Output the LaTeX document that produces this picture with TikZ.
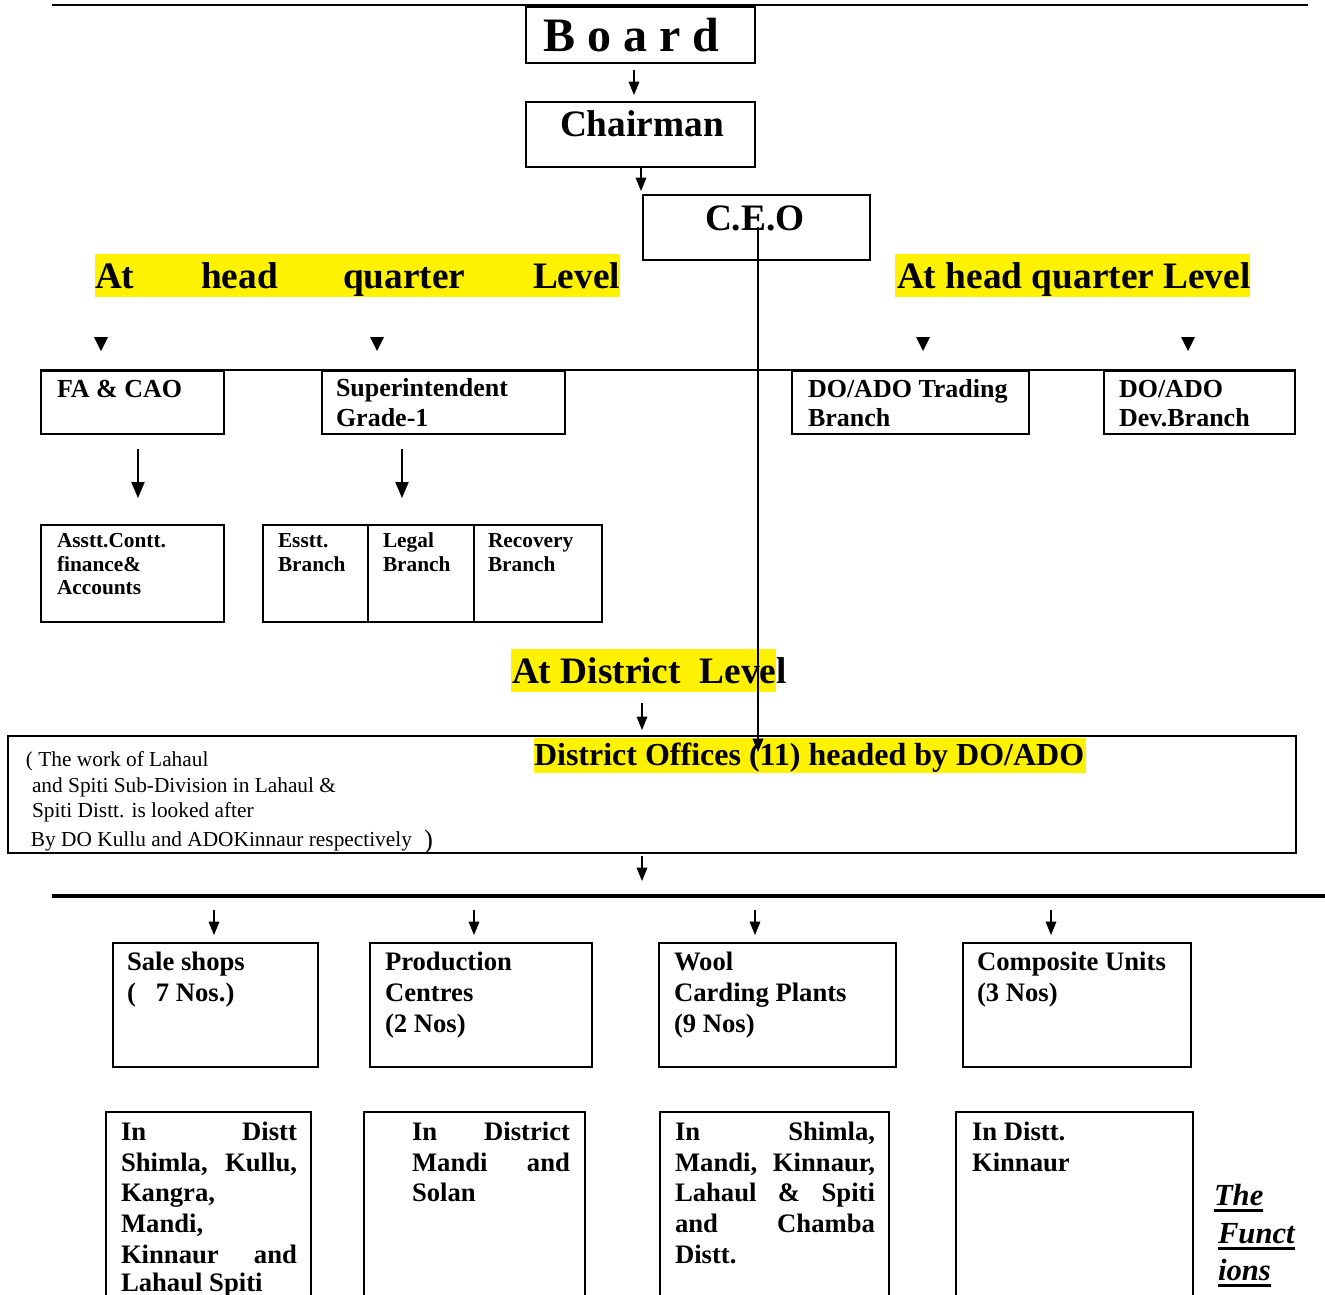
\documentclass[tikz,border=0pt]{standalone}
\usepackage{fontspec}
\setmainfont{Liberation Serif}
\usetikzlibrary{arrows.meta,fit}
\newcommand\myfs[1]{\fontsize{#1}{#1}\selectfont}
\begin{document}
\begin{tikzpicture}[x=0.75pt,y=-0.75pt,
  box/.style={draw, line width=1.4pt, inner sep=0pt},
  hl/.style={fill=yellow, inner sep=0pt, draw=none},
  t/.style={anchor=base west, inner sep=0pt, outer sep=0pt},
  big/.style={t, font=\bfseries\myfs{28pt}},
  mid/.style={t, font=\bfseries\myfs{19.5pt}},
  sml/.style={t, font=\bfseries\myfs{16pt}},
  low/.style={t, font=\bfseries\myfs{20pt}},
  note/.style={t, font=\myfs{16pt}},
  arr/.style={-{Triangle[length=10pt,width=8pt]}, line width=0.8pt},
  bigarr/.style={-{Triangle[length=12pt,width=10pt]}, line width=0.8pt}
]
\useasboundingbox (0,0) rectangle (1325,1295);
\clip (0,0) rectangle (1325,1295);

% top rule
\coordinate (tl) at (52,5); \coordinate (tr) at (1308,5);
\draw[line width=1.5pt] (tl) -- (tr);

% top boxes
\node[box, fit={(526,7)(755,63)}] (board) {};
\node[box, fit={(526,102)(755,167)}] (chair) {};
\node[box, fit={(643,195)(870,260)}] (ceo) {};
\node[t, font=\bfseries\myfs{36pt}] (boardt) at (543,52) {B o a r d};
\node[big] (chairt) at (560,137) {Chairman};
\node[big] (ceot) at (705,230) {C.E.O};

\coordinate (a1s) at (634,70); \coordinate (a1e) at (634,95);
\draw[arr] (a1s) -- (a1e);
\coordinate (a2s) at (641,167); \coordinate (a2e) at (641,191);
\draw[arr] (a2s) -- (a2e);

% head quarter highlights
\node[hl, fit={(95,254)(620,297)}] (hqL) {};
\node[hl, fit={(895,254)(1250,297)}] (hqR) {};
\node[big] (w1) at (95,288) {At};
\node[big] (w2) at (201,288) {head};
\node[big] (w3) at (343,288) {quarter};
\node[big] (w4) at (533,288) {Level};
\node[big] (hqRt) at (897,288) {At head quarter Level};

% small triangles
\foreach \x in {101,377,923,1188}{
  \fill (\x-7,337) -- (\x+7,337) -- (\x,351) -- cycle;
}

% HQ boxes
\node[box, fit={(41,371)(224,434)}] (fa) {};
\node[box, fit={(322,371)(565,434)}] (sup) {};
\node[box, fit={(792,371)(1029,434)}] (trd) {};
\node[box, fit={(1104,371)(1295,434)}] (dev) {};
\draw[line width=1.4pt] (fa.north west) -- (dev.north east);

\node[mid] (fat) at (57,397) {FA \& CAO};
\node[mid] (supt1) at (336,396) {Superintendent};
\node[mid] (supt2) at (336,426) {Grade-1};
\node[mid] (trdt1) at (808,397) {DO/ADO Trading};
\node[mid] (trdt2) at (808,426) {Branch};
\node[mid] (devt1) at (1119,397) {DO/ADO};
\node[mid] (devt2) at (1119,426) {Dev.Branch};

\coordinate (a3s) at (138,449); \coordinate (a3e) at (138,498);
\draw[bigarr] (a3s) -- (a3e);
\coordinate (a4s) at (402,449); \coordinate (a4e) at (402,498);
\draw[bigarr] (a4s) -- (a4e);

% sub boxes
\node[box, fit={(41,525)(224,622)}] (asst) {};
\node[box, fit={(263,525)(368,622)}] (esst) {};
\node[box, fit={(368,525)(474,622)}] (legal) {};
\node[box, fit={(474,525)(602,622)}] (recov) {};
\node[sml] (asst1) at (57,547) {Asstt.Contt.};
\node[sml] (asst2) at (57,571) {finance\&};
\node[sml] (asst3) at (57,594) {Accounts};
\node[sml] (es1) at (278,547) {Esstt.};
\node[sml] (es2) at (278,571) {Branch};
\node[sml] (lg1) at (383,547) {Legal};
\node[sml] (lg2) at (383,571) {Branch};
\node[sml] (rc1) at (488,547) {Recovery};
\node[sml] (rc2) at (488,571) {Branch};

% district level
\node[hl, fit={(511,649)(776,692)}] (dlh) {};
\node[big] (dlt) at (512,683) {At District\hspace{14pt}Level};
\coordinate (a5s) at (642,703); \coordinate (a5e) at (642,730);
\draw[arr] (a5s) -- (a5e);

\node[box, fit={(8,736)(1296,853)}] (dist) {};
\node[hl, fit={(534,738)(1086,773)}] (doh) {};
\node[t, font=\bfseries\myfs{24pt}] (dot) at (534,765) {District Offices (11) headed by DO/ADO};

\node[note] (n1) at (26,766) {( The work of Lahaul};
\node[note] (n2) at (32,792) {and Spiti Sub-Division in Lahaul \&};
\node[note] (n3) at (32,817) {Spiti Distt. is looked after};
\node[note] (n4) at (31,846) {By DO Kullu and ADOKinnaur respectively};
\node[t, font=\myfs{20pt}] (n5) at (424,848) {)};

% CEO long connector
\coordinate (cs) at (758,227); \coordinate (ce) at (758,752);
\draw[arr, line width=1pt] (cs) -- (ce);

\coordinate (a6s) at (642,856); \coordinate (a6e) at (642,881);
\draw[arr] (a6s) -- (a6e);

% thick rule
\coordinate (rl) at (52,896); \coordinate (rr) at (1325,896);
\draw[line width=3pt] (rl) -- (rr);

% function boxes
\node[box, fit={(113,943)(318,1067)}] (sale) {};
\node[box, fit={(370,943)(592,1067)}] (prod) {};
\node[box, fit={(659,943)(896,1067)}] (wool) {};
\node[box, fit={(963,943)(1191,1067)}] (comp) {};
\foreach \x/\n in {214/sale,474/prod,755/wool,1051/comp}{
  \coordinate (s\n) at (\x,910); \coordinate (e\n) at (\x,935);
  \draw[arr] (s\n) -- (e\n);
}
\node[low] (sa1) at (127,970) {Sale shops};
\node[low] (sa2) at (127,1001) {(\hspace{15pt}7 Nos.)};
\node[low] (pr1) at (385,970) {Production};
\node[low] (pr2) at (385,1001) {Centres};
\node[low] (pr3) at (385,1032) {(2 Nos)};
\node[low] (wo1) at (674,970) {Wool};
\node[low] (wo2) at (674,1001) {Carding Plants};
\node[low] (wo3) at (674,1032) {(9 Nos)};
\node[low] (co1) at (977,970) {Composite Units};
\node[low] (co2) at (977,1001) {(3 Nos)};

% location boxes (open at bottom)
\draw[line width=1.4pt] (106,1300) |- (311,1112) -- (311,1300);
\draw[line width=1.4pt] (364,1300) |- (585,1112) -- (585,1300);
\draw[line width=1.4pt] (660,1300) |- (889,1112) -- (889,1300);
\draw[line width=1.4pt] (956,1300) |- (1193,1112) -- (1193,1300);

\node[low] (l11) at (121,1140) {\makebox[132pt]{In\hfill Distt}};
\node[low] (l12) at (121,1171) {\makebox[132pt]{Shimla,\hfill Kullu,}};
\node[low] (l13) at (121,1201) {Kangra,};
\node[low] (l14) at (121,1232) {Mandi,};
\node[low] (l15) at (121,1263) {\makebox[132pt]{Kinnaur\hfill and}};
\node[low] (l16) at (121,1291) {Lahaul Spiti};

\node[low] (l21) at (412,1140) {\makebox[118.5pt]{In\hfill District}};
\node[low] (l22) at (412,1171) {\makebox[118.5pt]{Mandi\hfill and}};
\node[low] (l23) at (412,1201) {Solan};

\node[low] (l31) at (675,1140) {\makebox[150pt]{In\hfill Shimla,}};
\node[low] (l32) at (675,1171) {\makebox[150pt]{Mandi,\hfill Kinnaur,}};
\node[low] (l33) at (675,1201) {\makebox[150pt]{Lahaul\hfill \&\hfill Spiti}};
\node[low] (l34) at (675,1232) {\makebox[150pt]{and\hfill Chamba}};
\node[low] (l35) at (675,1263) {Distt.};

\node[low] (l41) at (972,1140) {In Distt.};
\node[low] (l42) at (972,1171) {Kinnaur};

% The Functions
\node[t, font=\bfseries\itshape\myfs{23pt}] (f1) at (1214,1205) {The};
\node[t, font=\bfseries\itshape\myfs{23pt}] (f2) at (1218,1243) {Funct};
\node[t, font=\bfseries\itshape\myfs{23pt}] (f3) at (1218,1280) {ions};
\foreach \f in {f1,f2,f3}{
  \draw[line width=2.5pt] ([yshift=-4pt]\f.base west) -- ([yshift=-4pt]\f.base east);
}
\end{tikzpicture}
\end{document}
